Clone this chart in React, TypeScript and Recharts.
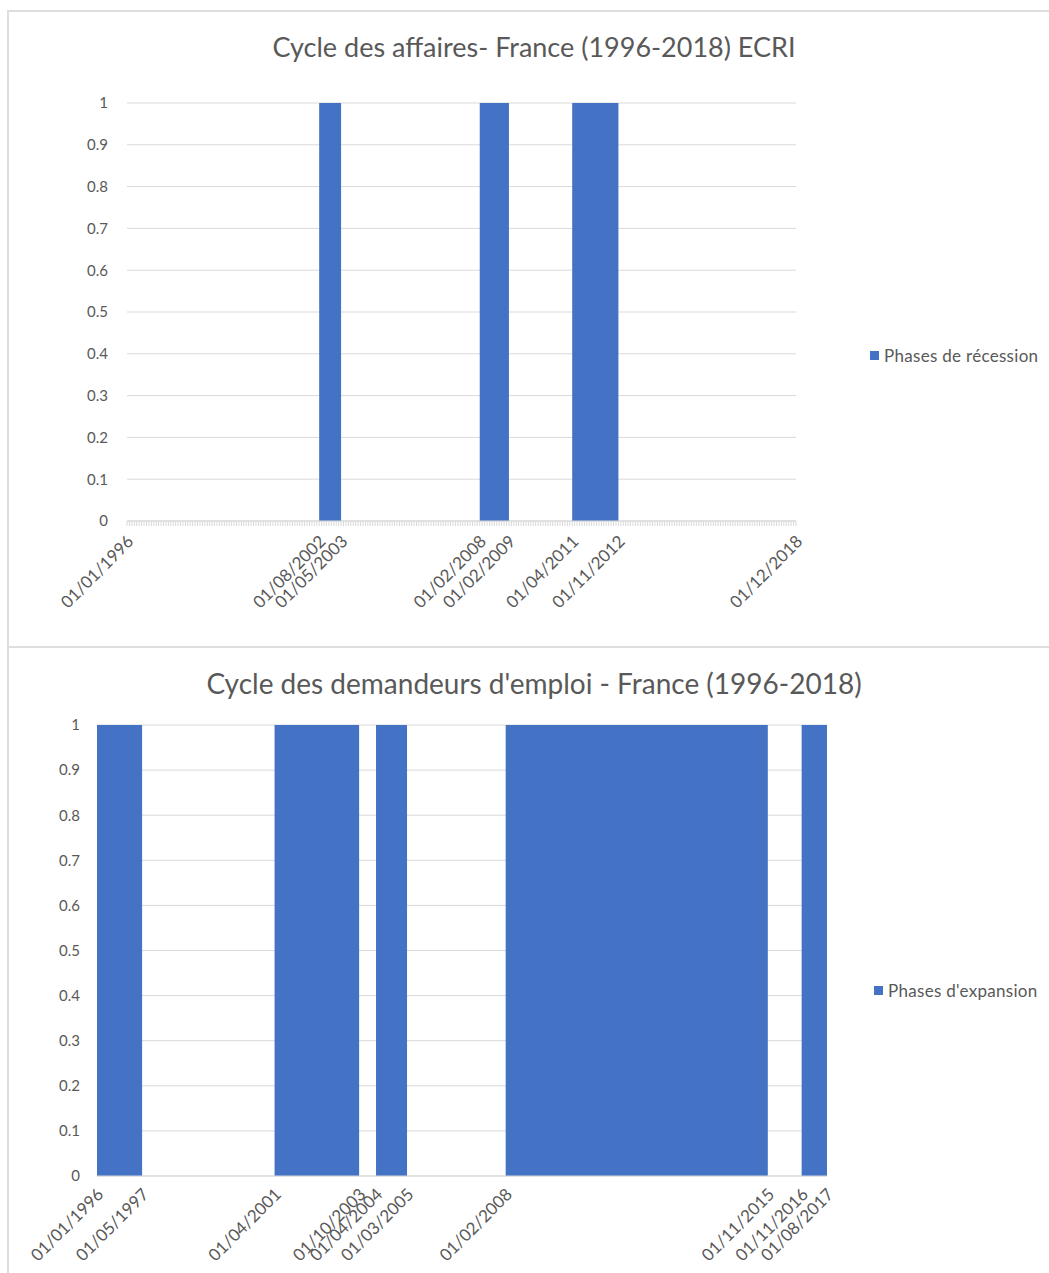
import React from "react";
import { AreaChart, Area, XAxis, YAxis, CartesianGrid, Legend } from "recharts";

// ---- Data (dates as DD/MM/YYYY, monthly axis starting 01/01/1996) ----
const topAxisStart = "01/01/1996";
const topAxisEnd = "01/12/2018";
const recessionStarts = ["01/08/2002", "01/02/2008", "01/04/2011"];
const recessionEnds = ["01/05/2003", "01/02/2009", "01/11/2012"];
const topTickLabels = ["01/01/1996", "01/08/2002", "01/05/2003", "01/02/2008", "01/02/2009", "01/04/2011", "01/11/2012", "01/12/2018"];

const bottomAxisStart = "01/01/1996";
const bottomAxisEnd = "01/08/2017";
const expansionStarts = ["01/01/1996", "01/04/2001", "01/04/2004", "01/02/2008", "01/11/2016"];
const expansionEnds = ["01/05/1997", "01/10/2003", "01/03/2005", "01/11/2015", "01/08/2017"];
const bottomTickLabels = ["01/01/1996", "01/05/1997", "01/04/2001", "01/10/2003", "01/04/2004", "01/03/2005", "01/02/2008", "01/11/2015", "01/11/2016", "01/08/2017"];

const yTicks = [0, 0.1, 0.2, 0.3, 0.4, 0.5, 0.6, 0.7, 0.8, 0.9, 1];

const topTitle = "Cycle des affaires- France (1996-2018) ECRI";
const bottomTitle = "Cycle des demandeurs d'emploi - France (1996-2018)";
const topSeriesName = "Phases de récession";
const bottomSeriesName = "Phases d'expansion";

// ---- helpers ----
const monthIndex = (s: string) => {
  const [, m, y] = s.split("/").map(Number);
  return (y - 1996) * 12 + (m - 1);
};

const buildPoints = (axisStart: string, axisEnd: string, starts: string[], ends: string[]) => {
  const pts: { x: number; y: number }[] = [{ x: monthIndex(axisStart), y: 0 }];
  starts.forEach((s, i) => {
    const a = monthIndex(s);
    const b = monthIndex(ends[i]);
    pts.push({ x: a, y: 0 }, { x: a, y: 1 }, { x: b, y: 1 }, { x: b, y: 0 });
  });
  pts.push({ x: monthIndex(axisEnd), y: 0 });
  return pts;
};

const topData = buildPoints(topAxisStart, topAxisEnd, recessionStarts, recessionEnds);
const bottomData = buildPoints(bottomAxisStart, bottomAxisEnd, expansionStarts, expansionEnds);

const topAllMonths: number[] = [];
for (let i = monthIndex(topAxisStart); i <= monthIndex(topAxisEnd); i++) topAllMonths.push(i);
const topLabelMap: Record<number, string> = {};
topTickLabels.forEach((l) => (topLabelMap[monthIndex(l)] = l));
const bottomTicks = bottomTickLabels.map(monthIndex);
const bottomLabelMap: Record<number, string> = {};
bottomTickLabels.forEach((l) => (bottomLabelMap[monthIndex(l)] = l));

const FONT = "Lato, 'Open Sans', sans-serif";
const TEXT = "#595959";
const BLUE = "#4472C4";
const GRID = "#d9d9d9";

const makeTick = (map: Record<number, string>, dx: number, dy: number) => (props: any) => {
  const { x, y, payload } = props;
  const txt = map[payload.value];
  if (!txt) return <g />;
  const ax = x + dx;
  const ay = y + dy;
  return (
    <text
      x={ax}
      y={ay}
      transform={`rotate(-45 ${ax} ${ay})`}
      textAnchor="end"
      dominantBaseline="central"
      fill={TEXT}
      fontSize={17}
      fontFamily={FONT}
    >
      {txt}
    </text>
  );
};

const makeLegend = (name: string) => () => (
  <div style={{ display: "flex", alignItems: "center", fontFamily: FONT, fontSize: 17, letterSpacing: 0.3, color: TEXT, whiteSpace: "nowrap" }}>
    <span style={{ display: "inline-block", width: 9, height: 9, background: BLUE, marginRight: 5 }} />
    {name}
  </div>
);

export default function App() {
  return (
    <div style={{ position: "absolute", left: 0, top: 0, width: 1049, height: 1273, background: "#fff", overflow: "hidden" }}>
      {/* frame */}
      <div style={{ position: "absolute", left: 7, top: 10, width: 1100, height: 1300, borderLeft: "2px solid #dedede", borderTop: "2px solid #dedede" }} />
      <div style={{ position: "absolute", left: 7, top: 646, width: 1100, height: 0, borderTop: "2px solid #dedede" }} />

      {/* titles */}
      <div style={{ position: "absolute", left: 0, width: 1068, top: 28, textAlign: "center", fontFamily: FONT, fontSize: 27, color: TEXT, lineHeight: "38px" }}>
        {topTitle}
      </div>
      <div style={{ position: "absolute", left: 0, width: 1068, top: 664, textAlign: "center", fontFamily: FONT, fontSize: 28, color: TEXT, lineHeight: "38px" }}>
        {bottomTitle}
      </div>

      {/* top chart */}
      <div style={{ position: "absolute", left: 0, top: 0 }}>
        <AreaChart width={1049} height={646} data={topData} margin={{ top: 103, left: 87, right: 253, bottom: 35 }}>
          <CartesianGrid vertical={false} stroke={GRID} />
          <XAxis
            dataKey="x"
            type="number"
            domain={[monthIndex(topAxisStart), monthIndex(topAxisEnd)]}
            ticks={topAllMonths}
            interval={0}
            height={90}
            axisLine={{ stroke: GRID }}
            tickLine={{ stroke: GRID }}
            tickSize={5}
            tick={makeTick(topLabelMap, 3, 10)}
          />
          <YAxis
            type="number"
            domain={[0, 1]}
            ticks={yTicks}
            width={40}
            axisLine={false}
            tickLine={false}
            tickMargin={13}
            tick={{ fill: TEXT, fontSize: 15, fontFamily: FONT }}
          />
          <Legend
            layout="horizontal"
            verticalAlign="middle"
            align="center"
            wrapperStyle={{ left: 870, top: 345, width: 180 }}
            content={makeLegend(topSeriesName)}
          />
          <Area
            type="linear"
            dataKey="y"
            name={topSeriesName}
            fill={BLUE}
            fillOpacity={1}
            stroke="none"
            isAnimationActive={false}
          />
        </AreaChart>
      </div>

      {/* bottom chart */}
      <div style={{ position: "absolute", left: 0, top: 648 }}>
        <AreaChart width={1049} height={625} data={bottomData} margin={{ top: 77, left: 57, right: 222, bottom: 7 }}>
          <CartesianGrid vertical={false} stroke={GRID} />
          <XAxis
            dataKey="x"
            type="number"
            domain={[monthIndex(bottomAxisStart), monthIndex(bottomAxisEnd)]}
            ticks={bottomTicks}
            interval={0}
            height={90}
            axisLine={{ stroke: GRID }}
            tickLine={false}
            tickSize={5}
            tick={makeTick(bottomLabelMap, 3, 8)}
          />
          <YAxis
            type="number"
            domain={[0, 1]}
            ticks={yTicks}
            width={40}
            axisLine={false}
            tickLine={false}
            tickMargin={11}
            tick={{ fill: TEXT, fontSize: 15, fontFamily: FONT }}
          />
          <Legend
            layout="horizontal"
            verticalAlign="middle"
            align="center"
            wrapperStyle={{ left: 874, top: 332, width: 180 }}
            content={makeLegend(bottomSeriesName)}
          />
          <Area
            type="linear"
            dataKey="y"
            name={bottomSeriesName}
            fill={BLUE}
            fillOpacity={1}
            stroke="none"
            isAnimationActive={false}
          />
        </AreaChart>
      </div>
    </div>
  );
}
